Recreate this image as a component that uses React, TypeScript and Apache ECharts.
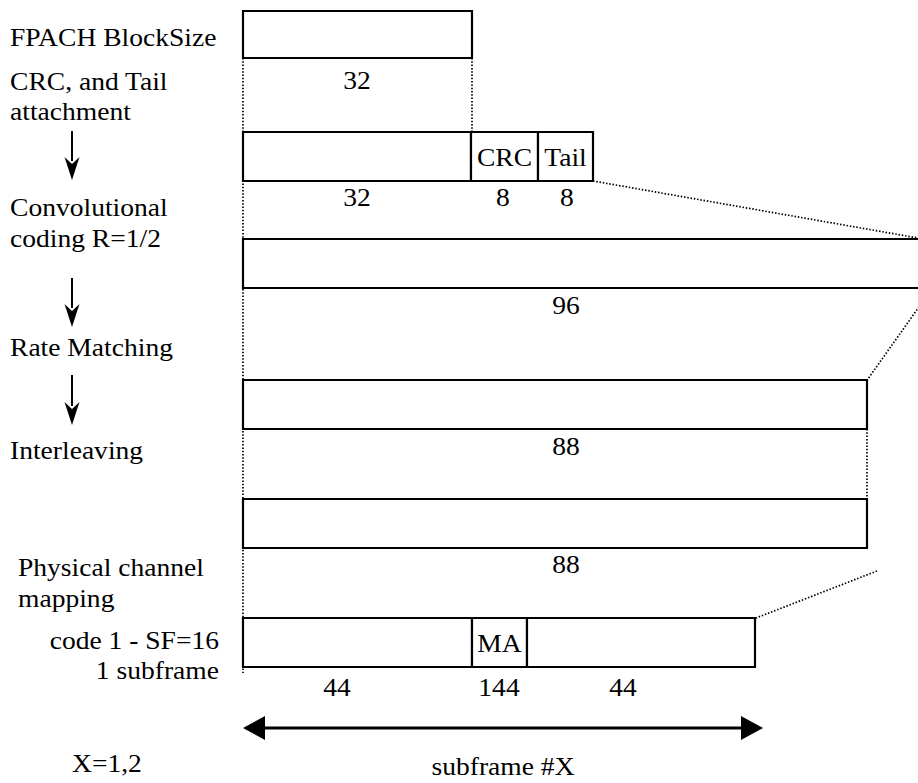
import React, { useEffect, useRef } from "react";
import * as echarts from "echarts";

const W = 918;
const H = 783;
const FAMILY = "'Liberation Serif', 'Times New Roman', Times, serif";
const SIZE = 26;
const STRETCH = 1.06;

// Block rows (diagram units = pixels of the 918x783 canvas)
const rowTops = [11, 132, 239, 380, 499, 618];
const rowBottoms = [58, 181, 288, 429, 548, 667];
const rowSegments: number[][][] = [
  [[243, 472]],
  [[243, 471], [471, 538], [538, 593]],
  [[243, 940]],
  [[243, 867]],
  [[243, 867]],
  [[243, 472], [472, 527], [527, 755]],
];
const segmentTexts = [[""], ["", "CRC", "Tail"], [""], [""], [""], ["", "MA", ""]];
const sizeLabels = [["32"], ["32", "8", "8"], ["96"], ["88"], ["88"], ["44", "144", "44"]];
const sizeLabelX = [[357], [357, 503, 567], [566], [566], [566], [337, 499, 623]];
const sizeLabelY = [80, 197, 305, 446, 564, 687];

// Dotted guide lines [x1, y1, x2, y2]
const dottedLines = [
  [243, 58, 243, 673],
  [472, 58, 472, 132],
  [593, 181, 918, 238],
  [921, 304, 858, 393],
  [867, 429, 867, 499],
  [877, 571, 756, 618],
];

// Down arrows between stage names [x, yTop, yTip]
const downArrows = [
  [72, 131, 180],
  [72, 278, 327],
  [72, 375, 425],
];

// Double-headed span arrow [x1, x2, y]
const spanArrow = [243, 763, 728];

// Stage texts: [text, x, y, align]
const stageTexts: [string, number, number, string][] = [
  ["FPACH BlockSize", 10, 37, "left"],
  ["CRC, and Tail", 10, 81, "left"],
  ["attachment", 10, 111, "left"],
  ["Convolutional", 10, 207, "left"],
  ["coding R=1/2", 10, 238, "left"],
  ["Rate Matching", 10, 347, "left"],
  ["Interleaving", 10, 450, "left"],
  ["Physical channel", 18, 567, "left"],
  ["mapping", 18, 598, "left"],
  ["code 1 - SF=16", 219, 640, "right"],
  ["1 subframe", 219, 670, "right"],
  ["X=1,2", 72, 763, "left"],
  ["subframe #X", 503, 766, "center"],
];

const textEl = (text: string, x: number, y: number, align: string) => ({
  type: "text",
  x,
  y,
  scaleX: STRETCH,
  style: {
    text,
    x: 0,
    y: 0,
    align,
    verticalAlign: "middle",
    fontFamily: FAMILY,
    fontSize: SIZE,
    fill: "#000",
  },
});

export default function App() {
  const ref = useRef<HTMLDivElement>(null);
  useEffect(() => {
    if (!ref.current) return;
    const chart = echarts.init(ref.current, null, { renderer: "svg" });

    const boxData: number[][] = [];
    const boxText: string[] = [];
    rowSegments.forEach((segs, r) => {
      segs.forEach((s, i) => {
        boxData.push([s[0], s[1], rowTops[r], rowBottoms[r]]);
        boxText.push(segmentTexts[r][i]);
      });
    });

    const labelData: number[][] = [];
    const labelText: string[] = [];
    sizeLabels.forEach((labs, r) => {
      labs.forEach((t, i) => {
        labelData.push([sizeLabelX[r][i], sizeLabelY[r]]);
        labelText.push(t);
      });
    });

    const option: any = {
      animation: false,
      backgroundColor: "#ffffff",
      textStyle: { fontFamily: FAMILY },
      grid: { left: 0, right: 0, top: 0, bottom: 0 },
      xAxis: { type: "value", min: 0, max: W, show: false },
      yAxis: { type: "value", min: 0, max: H, inverse: true, show: false },
      series: [
        {
          type: "custom",
          name: "guides",
          clip: false,
          data: dottedLines,
          z: 1,
          renderItem: (params: any, api: any) => {
            const a = api.coord([api.value(0), api.value(1)]);
            const b = api.coord([api.value(2), api.value(3)]);
            return {
              type: "line",
              shape: { x1: a[0], y1: a[1], x2: b[0], y2: b[1] },
              style: { stroke: "#000", lineWidth: 1.7, lineDash: [1.5, 1.8] },
            };
          },
        },
        {
          type: "custom",
          name: "blocks",
          clip: false,
          data: boxData,
          z: 2,
          renderItem: (params: any, api: any) => {
            const p1 = api.coord([api.value(0), api.value(2)]);
            const p2 = api.coord([api.value(1), api.value(3)]);
            const t = boxText[params.dataIndex];
            return {
              type: "group",
              children: [
                {
                  type: "rect",
                  shape: { x: p1[0], y: p1[1], width: p2[0] - p1[0], height: p2[1] - p1[1] },
                  style: { fill: "#fff", stroke: "#000", lineWidth: 2.2 },
                },
                textEl(t, (p1[0] + p2[0]) / 2, (p1[1] + p2[1]) / 2 + 1, "center"),
              ],
            };
          },
        },
        {
          type: "custom",
          name: "sizes",
          clip: false,
          data: labelData,
          z: 3,
          renderItem: (params: any, api: any) => {
            const p = api.coord([api.value(0), api.value(1)]);
            return textEl(labelText[params.dataIndex], p[0], p[1], "center");
          },
        },
        {
          type: "custom",
          name: "flow",
          clip: false,
          data: downArrows,
          z: 3,
          renderItem: (params: any, api: any) => {
            const top = api.coord([api.value(0), api.value(1)]);
            const tip = api.coord([api.value(0), api.value(2)]);
            const hl = 23;
            const hw = 7.5;
            return {
              type: "group",
              children: [
                {
                  type: "line",
                  shape: { x1: top[0], y1: top[1], x2: tip[0], y2: tip[1] - hl + 4 },
                  style: { stroke: "#000", lineWidth: 2 },
                },
                {
                  type: "polygon",
                  shape: {
                    points: [
                      [tip[0] - hw, tip[1] - hl],
                      [tip[0], tip[1] - hl + 7],
                      [tip[0] + hw, tip[1] - hl],
                      [tip[0], tip[1]],
                    ],
                  },
                  style: { fill: "#000" },
                },
              ],
            };
          },
        },
        {
          type: "custom",
          name: "span",
          clip: false,
          data: [spanArrow],
          z: 3,
          renderItem: (params: any, api: any) => {
            const a = api.coord([api.value(0), api.value(2)]);
            const b = api.coord([api.value(1), api.value(2)]);
            const hl = 22;
            const hh = 12;
            return {
              type: "group",
              children: [
                {
                  type: "line",
                  shape: { x1: a[0] + hl - 2, y1: a[1], x2: b[0] - hl + 2, y2: b[1] },
                  style: { stroke: "#000", lineWidth: 3 },
                },
                {
                  type: "polygon",
                  shape: { points: [[a[0], a[1]], [a[0] + hl, a[1] - hh], [a[0] + hl, a[1] + hh]] },
                  style: { fill: "#000" },
                },
                {
                  type: "polygon",
                  shape: { points: [[b[0], b[1]], [b[0] - hl, b[1] - hh], [b[0] - hl, b[1] + hh]] },
                  style: { fill: "#000" },
                },
              ],
            };
          },
        },
      ],
      graphic: stageTexts.map(([t, x, y, align]) => textEl(t, x, y, align)),
    };
    chart.setOption(option);
    return () => chart.dispose();
  }, []);

  return (
    <div
      ref={ref}
      style={{ position: "absolute", left: 0, top: 0, width: W, height: H, background: "#fff" }}
    />
  );
}
